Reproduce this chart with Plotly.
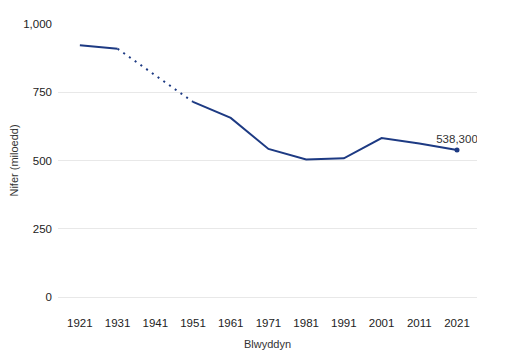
import plotly.graph_objects as go

years = ["1921", "1931", "1941", "1951", "1961", "1971", "1981", "1991", "2001", "2011", "2021"]
speakers = [922.1, 909.3, None, 714.7, 656.0, 542.4, 503.5, 508.1, 582.4, 562.0, 538.3]
gap_years = ["1931", "1951"]
gap_values = [909.3, 714.7]
last_label = "538,300"
y_ticks = [0, 250, 500, 750, 1000]

color = "#1d3a83"
fig = go.Figure()
fig.add_trace(go.Scatter(x=years, y=speakers, mode="lines", line=dict(color=color, width=2),
                         connectgaps=False, hoverinfo="x+y"))
fig.add_trace(go.Scatter(x=gap_years, y=gap_values, mode="lines",
                         line=dict(color=color, width=2, dash="2px,5px"), hoverinfo="skip"))
fig.add_trace(go.Scatter(x=[years[-1]], y=[speakers[-1]], mode="markers+text",
                         marker=dict(color=color, size=5), text=[last_label],
                         textposition="top center", textfont=dict(size=11.5, color="#333333")))

fig.update_layout(
    width=499, height=349, showlegend=False,
    paper_bgcolor="white", plot_bgcolor="white",
    margin=dict(l=50, r=30, t=16, b=60),
    font=dict(family="Liberation Sans, Arial, sans-serif", color="#333333", size=11.5),
    xaxis=dict(type="category", categoryorder="array", categoryarray=years, automargin=False,
               range=[-0.58, 10.53], showgrid=False, showline=False, ticks="",
               ticklabelstandoff=17,
               title=dict(text="Blwyddyn", font=dict(size=11), standoff=12),
               tickfont=dict(size=11.5, color="#222222")),
    yaxis=dict(range=[0, 1000], tickvals=y_ticks, tickformat=",", showgrid=True, automargin=False,
               gridcolor="#e8e8e8", zeroline=True, zerolinecolor="#e8e8e8", zerolinewidth=1,
               showline=False, ticks="", ticklabelstandoff=5,
               title=dict(text="Nifer (miloedd)", font=dict(size=11), standoff=10),
               tickfont=dict(size=11.5, color="#222222")),
)
fig.write_html("out.html")
